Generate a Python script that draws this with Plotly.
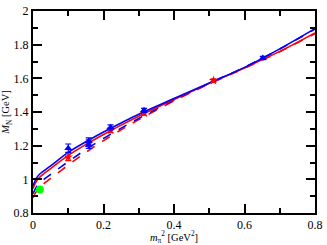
import plotly.graph_objects as go

# Fit curves
curve_x = [0, 0.01, 0.02, 0.05, 0.1, 0.15, 0.2, 0.25, 0.3, 0.4, 0.5, 0.6, 0.7, 0.8]
blue_solid = [0.96, 1.009, 1.033, 1.08, 1.16, 1.223, 1.281, 1.335, 1.387, 1.48, 1.572, 1.665, 1.775, 1.895]
red_solid = [0.945, 0.99, 1.015, 1.064, 1.142, 1.207, 1.266, 1.322, 1.375, 1.474, 1.57, 1.662, 1.76, 1.87]
blue_dash = [0.915, 0.955, 0.98, 1.03, 1.105, 1.177, 1.243, 1.304, 1.362, 1.47, 1.57, 1.666, 1.774, 1.893]
red_dash = [0.89, 0.93, 0.955, 1.005, 1.085, 1.16, 1.23, 1.294, 1.355, 1.466, 1.567, 1.66, 1.758, 1.866]

# Lattice data
blue_x = [0.1, 0.158, 0.158, 0.22, 0.315, 0.652]
blue_y = [1.185, 1.228, 1.202, 1.308, 1.41, 1.721]
blue_err = [0.025, 0.018, 0.018, 0.015, 0.012, 0.01]

red_x = [0.1, 0.158, 0.22, 0.315, 0.512]
red_y = [1.133, 1.215, 1.293, 1.393, 1.587]
red_err = [0.022, 0.02, 0.015, 0.012, 0.01]

phys_x = [0.0195]
phys_y = [0.939]

BLUE = "#0000ff"
RED = "#ff0000"
SERIF = "Liberation Serif, Times New Roman, Times, serif"

fig = go.Figure()
for ys, col, dash in [(red_dash, RED, "dash"), (blue_dash, BLUE, "dash"),
                      (red_solid, RED, "solid"), (blue_solid, BLUE, "solid")]:
    fig.add_trace(go.Scatter(x=curve_x, y=ys, mode="lines",
                             line=dict(color=col, width=1.6, dash=dash, shape="spline"),
                             showlegend=False, hoverinfo="skip"))

fig.add_trace(go.Scatter(x=red_x, y=red_y, mode="markers",
                         marker=dict(symbol="star", size=7, color=RED),
                         error_y=dict(type="data", array=red_err, color=RED, thickness=1.2, width=3),
                         showlegend=False))
fig.add_trace(go.Scatter(x=blue_x, y=blue_y, mode="markers",
                         marker=dict(symbol="triangle-up", size=7, color=BLUE),
                         error_y=dict(type="data", array=blue_err, color=BLUE, thickness=1.2, width=3),
                         showlegend=False))
fig.add_trace(go.Scatter(x=phys_x, y=phys_y, mode="markers",
                         marker=dict(symbol="circle", size=8, color="#00ff00"),
                         showlegend=False))

axis_common = dict(showgrid=False, zeroline=False, showline=True, linecolor="black",
                   linewidth=2, mirror="ticks", ticks="inside", ticklen=9, tickwidth=1.5,
                   tickcolor="black", ticklabeloverflow="allow",
                   tickfont=dict(family=SERIF, size=12, color="black"))

fig.update_xaxes(range=[0, 0.8], dtick=0.2, tick0=0,
                 minor=dict(dtick=0.1, ticks="inside", ticklen=5, tickwidth=1.5, tickcolor="black"),
                 title=dict(text="<i>m</i><sub>π</sub><sup>2</sup> [GeV<sup>2</sup>]",
                            font=dict(family=SERIF, size=10.5, color="black"),
                            standoff=1),
                 **axis_common)
fig.update_yaxes(range=[0.8, 2.0], dtick=0.2, tick0=0.8,
                 minor=dict(dtick=0.1, ticks="inside", ticklen=5, tickwidth=1.5, tickcolor="black"),
                 title=dict(text="<i>M</i><sub>N</sub> [GeV]",
                            font=dict(family=SERIF, size=10.5, color="black"),
                            standoff=1),
                 **axis_common)

fig.update_layout(width=327, height=245,
                  margin=dict(l=33, r=8, t=4, b=32),
                  paper_bgcolor="white", plot_bgcolor="white",
                  font=dict(family=SERIF, color="black"))

fig.write_html("out.html", config={"displayModeBar": False},
               post_script="document.body.style.margin='0';")
